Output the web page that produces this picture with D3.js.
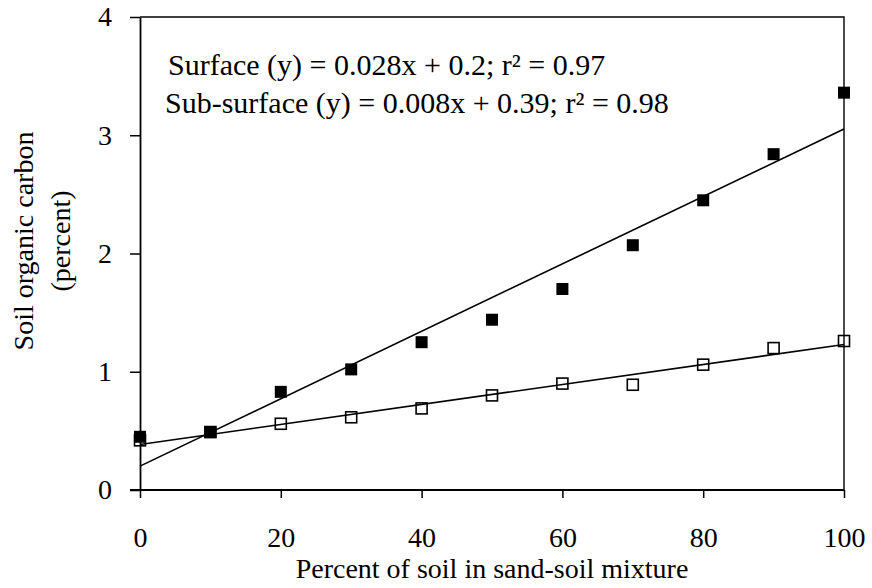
<!DOCTYPE html>
<html>
<head>
<meta charset="utf-8">
<script src="https://cdn.jsdelivr.net/npm/d3@7"></script>
<style>
  html, body { margin: 0; padding: 0; background: #fff; }
  svg { display: block; }
  svg text { font-family: "Liberation Serif", "Times New Roman", serif; }
</style>
</head>
<body>
<svg id="chart"></svg>
<script>
// percent of soil in the sand-soil mix
const soilPct = [0, 10, 20, 30, 40, 50, 60, 70, 80, 90, 100]
// soil organic carbon (%)
const surface = [0.45, 0.49, 0.83, 1.02, 1.25, 1.44, 1.70, 2.07, 2.45, 2.84, 3.36]
const subSurface = [0.42, 0.49, 0.56, 0.615, 0.69, 0.80, 0.90, 0.89, 1.06, 1.20, 1.26]
const xTicks = [0, 20, 40, 60, 80, 100]
const yTicks = [0, 1, 2, 3, 4]
const equations = [
  'Surface (y) = 0.028x + 0.2; r² = 0.97',
  'Sub-surface (y) = 0.008x + 0.39; r² = 0.98'
]
const yLabel = ['Soil organic carbon', '(percent)']
const xLabel = 'Percent of soil in sand-soil mixture'

const width = 872
const height = 588
const fontSize = 28
const serif = '"Liberation Serif", "Times New Roman", serif'

const svg = d3.select('#chart').attr('width', width).attr('height', height)

const x = d3.scaleLinear().domain([0, 100]).range([140, 844])
const y = d3.scaleLinear().domain([0, 4]).range([490, 17])

// least squares fit for the trend lines
function fit(xs, ys) {
  const mx = d3.mean(xs), my = d3.mean(ys)
  const sxy = d3.sum(xs, (v, i) => (v - mx) * (ys[i] - my))
  const sxx = d3.sum(xs, v => (v - mx) * (v - mx))
  const slope = sxy / sxx
  return { slope, intercept: my - slope * mx }
}

// frame (top + right)
svg.append('path')
  .attr('d', `M${x(0)},${y(4)}H${x(100)}V${y(0)}`)
  .attr('fill', 'none')
  .attr('stroke', '#000')
  .attr('stroke-width', 1.4)

const xAxis = svg.append('g')
  .attr('transform', `translate(0,${y(0)})`)
  .call(d3.axisBottom(x).tickValues(xTicks).tickFormat(d3.format('d'))
    .tickSize(8).tickPadding(29).tickSizeOuter(0))
const yAxis = svg.append('g')
  .attr('transform', `translate(${x(0)},0)`)
  .call(d3.axisLeft(y).tickValues(yTicks).tickFormat(d3.format('d'))
    .tickSize(10).tickPadding(18).tickSizeOuter(0))

;[xAxis, yAxis].forEach(ax => {
  ax.attr('font-family', serif).attr('font-size', fontSize)
  ax.select('.domain').attr('stroke', '#000').attr('stroke-width', 1.8)
  ax.selectAll('.tick line').attr('stroke', '#000').attr('stroke-width', 1.5)
  ax.selectAll('.tick text').attr('fill', '#000')
})
// extend x axis line under the left tick
xAxis.select('.domain').attr('d', `M${x(0) - 10},0H${x(100)}`)

// open squares first (filled ones sit on top where they overlap)
const openSize = 11
svg.append('g').selectAll('rect')
  .data(soilPct)
  .join('rect')
  .attr('x', (d, i) => x(d) - openSize / 2)
  .attr('y', (d, i) => y(subSurface[i]) - openSize / 2)
  .attr('width', openSize)
  .attr('height', openSize)
  .attr('fill', 'none')
  .attr('stroke', '#000')
  .attr('stroke-width', 1.6)

// trend lines
;[surface, subSurface].forEach(series => {
  const f = fit(soilPct, series)
  svg.append('line')
    .attr('x1', x(0))
    .attr('y1', y(f.intercept))
    .attr('x2', x(100))
    .attr('y2', y(f.intercept + f.slope * 100))
    .attr('stroke', '#000')
    .attr('stroke-width', 1.6)
})

const fillSize = 12
svg.append('g').selectAll('rect')
  .data(soilPct)
  .join('rect')
  .attr('x', (d, i) => x(d) - fillSize / 2)
  .attr('y', (d, i) => y(surface[i]) - fillSize / 2)
  .attr('width', fillSize)
  .attr('height', fillSize)
  .attr('fill', '#000')

// regression equations
svg.append('text')
  .attr('x', 168).attr('y', 75)
  .attr('font-size', 30)
  .text(equations[0])
svg.append('text')
  .attr('x', 165).attr('y', 113)
  .attr('font-size', 30)
  .text(equations[1])

// axis titles
svg.append('text')
  .attr('x', (x(0) + x(100)) / 2)
  .attr('y', 578)
  .attr('text-anchor', 'middle')
  .attr('font-size', fontSize)
  .text(xLabel)

const yl = svg.append('g').attr('transform', 'translate(0,241) rotate(-90)')
yl.append('text')
  .attr('x', 0).attr('y', 33)
  .attr('text-anchor', 'middle')
  .attr('font-size', fontSize)
  .text(yLabel[0])
yl.append('text')
  .attr('x', 0).attr('y', 70)
  .attr('text-anchor', 'middle')
  .attr('font-size', fontSize)
  .text(yLabel[1])
</script>
</body>
</html>
